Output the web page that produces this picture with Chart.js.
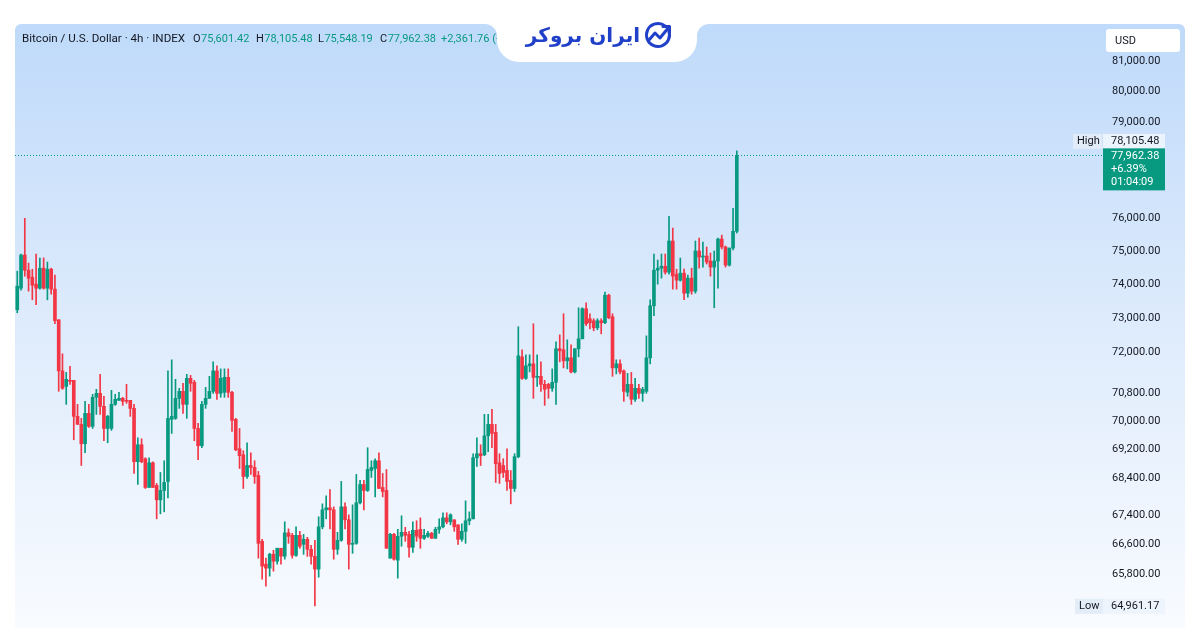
<!DOCTYPE html>
<html>
<head>
<meta charset="utf-8">
<script src="https://cdn.jsdelivr.net/npm/chart.js@4.4.1/dist/chart.umd.min.js"></script>
<style>
html,body{margin:0;padding:0;background:#fff;}
canvas{display:block;}
</style>
</head>
<body>
<canvas id="c" width="1200" height="628"></canvas>
<script>
// ---- DATA (4h candles) ----
const opens = [73237,73880,74880,74420,74210,74000,73880,74480,73880,74450,
73850,72940,71445,71000,71173,71173,70142,69915,69368,70227,
69858,70685,70800,70427,69800,69800,70484,70599,70656,70599,
70599,70370,68864,69340,68947,68151,68836,68206,67810,68068,
68317,70057,70085,70656,70857,70484,71231,71116,69800,69312,
70484,70656,70857,71445,70800,70829,71260,70829,70057,69228,
69060,68455,68760,68705,68483,66681,66067,65960,66333,66147,
66494,66280,66909,66843,66303,66843,66600,66735,66465,66276,
65934,67073,67537,67591,67537,66465,66708,67618,67264,66600,
66627,67728,68234,68068,68621,68677,68892,68151,68068,66227,
66870,66173,66816,66924,66870,66519,66978,67005,66762,66816,
66897,66762,67005,67073,67318,67209,67264,67127,66735,66951,
67237,67291,68976,69088,69060,69592,69915,69687,68836,68760,
68621,68345,68123,69004,71854,71231,71591,71650,71259,71288,
71058,71058,70944,71116,72089,72060,71737,71825,71416,72089,
72380,73266,72970,72911,72704,72911,72852,73670,73030,71533,
71650,71445,70829,71058,70628,70944,70800,70857,71825,73355,
74420,74480,74540,74360,75304,74300,74120,74330,73730,74180,
73790,75000,74818,74848,74696,74514,74696,75365,75122,74574,
75091,75601.42];
const highs = [74390,74910,76000,74635,74450,74910,74787,74790,74666,74480,
74270,72940,71942,71403,71575,71173,70483,70085,70570,70483,
70771,70915,71345,70714,70170,70886,70771,70829,70685,71058,
70599,70484,69536,69508,68975,68975,68864,68262,68566,68892,
71445,71766,71202,70944,71087,71345,71316,71173,69943,70570,
70972,71288,71708,71591,71504,71504,71504,70857,70085,69800,
69172,69396,69116,68892,68594,66735,66227,66360,66440,66494,
66494,67209,67018,66897,67073,66951,66870,66789,66573,66708,
67346,67700,67920,68095,67618,66924,68317,67728,67400,67673,
68511,68345,68345,69256,68892,68948,69116,68539,68649,66897,
66897,67005,67373,67060,66951,67209,67237,67318,67005,66951,
66924,67060,67291,67455,67455,67427,67264,67127,67155,67782,
67482,69088,69536,69340,70199,70199,70341,69915,69088,68948,
69228,68621,69088,72734,72058,71912,71912,72822,71912,71708,
71173,71087,71504,72290,72496,73118,72350,72204,72089,73296,
73296,73444,73118,72970,72970,72970,73760,73700,73118,71766,
71766,71474,71374,71403,71231,71058,70972,72467,73533,74909,
74726,74909,74909,76062,75700,74450,74787,74450,74270,74480,
75304,75395,75274,75122,74939,75000,75395,75486,75152,75091,
76308,78105.48];
const lows = [73148,73820,74240,73790,73533,73385,73850,73850,73533,73700,
72822,70857,70915,70484,71058,69480,69915,68760,69116,69830,
69800,70199,70199,69452,69396,69744,70455,70599,70455,70513,
70142,68539,68234,68836,68123,68151,68151,67291,67427,67482,
67864,69659,70057,70370,70227,70085,70857,69452,68920,69256,
70370,70656,70800,70628,70685,70685,70685,69716,69172,68677,
68123,68400,68511,68262,66227,65667,65480,65747,65880,66067,
66067,66200,66627,66227,66276,66492,66330,66276,66067,64961,
65720,67018,67291,67018,66200,66330,66681,67018,65934,66357,
66600,67700,67537,68040,68428,67892,68123,67892,66492,66227,
66173,65693,66546,66681,66254,66384,66681,66492,66735,66789,
66762,66762,66897,67046,67155,67127,66951,66600,66681,66627,
67127,67291,68732,68760,69032,69144,69256,68289,68262,68428,
68068,67700,68040,68976,71202,71202,71416,70656,71001,70857,
70455,70656,70857,70483,71708,71532,71504,71387,71387,71854,
72380,72763,72674,72615,72645,72526,72822,72970,71288,71358,
71358,70570,70714,70484,70570,70656,70570,70800,71650,73059,
74000,74180,74300,74300,73850,73850,74090,73533,73610,73700,
73730,74480,74514,74605,74240,73296,73880,75061,74514,74544,
75030,75548.19];
const closes = [73940,74880,74420,74180,73970,73880,74480,73880,74450,73850,
72911,71445,70944,71202,71144,70142,69915,69368,70227,69858,
70685,70800,70427,69800,70142,70484,70628,70656,70570,70570,
70370,68864,69340,68864,68151,68836,68151,67810,68068,68289,
70085,70142,70656,70857,70484,71231,71087,69800,69312,70484,
70656,70857,71445,70800,71231,71260,70829,70028,69200,69032,
68455,68760,68705,68455,66627,66014,65960,66333,66147,66494,
66280,66909,66815,66303,66843,66546,66735,66465,66276,65934,
67073,67537,67591,67537,66465,66708,67618,67264,66600,66627,
67728,68234,68068,68649,68705,68892,68123,68040,66492,66870,
66200,66816,66924,66843,66519,66978,66816,66762,66843,66897,
66762,67005,67073,67318,67209,67400,67073,66735,66951,67237,
67291,68976,69088,69032,69592,69915,69659,68808,68539,68566,
68317,68123,69004,71883,71231,71591,71650,71259,71288,71058,
70915,70944,71116,72089,72030,71737,71825,71416,72089,72380,
73266,72822,72852,72704,72911,72852,73670,73000,71533,71650,
71416,70857,71058,70628,70944,70800,70915,71825,73355,74420,
74480,74540,74360,75304,74240,74120,74330,73730,74180,73790,
75000,74818,74848,74666,74514,74696,75365,75122,74574,75091,
75601.42,77962.38];
const yTicks = [81000,80000,79000,76000,75000,74000,73000,72000,70800,70000,69200,68400,67400,66600,65800];
const symbolTitle = 'Bitcoin / U.S. Dollar \u00b7 4h \u00b7 INDEX';
const changeAbs = 2361.76;
const changeRel = 3.12;
const dayChangePct = 6.39;
const countdown = '01:04:09';
const rangeHigh = 78105.48;
const rangeLow = 64961.17;
const currency = 'USD';
const brandName = 'ایران بروکر';

// ---- STYLE ----
const UP = '#089981', DOWN = '#F23645', TXT = '#131722';
const FONT = 'Roboto, "Liberation Sans", sans-serif';
const fmt = v => Number(v).toLocaleString('en-US', {minimumFractionDigits: 2, maximumFractionDigits: 2});

const colors = closes.map((c, i) => c >= opens[i] ? UP : DOWN);
const wickData = highs.map((h, i) => ({x: i, y: [lows[i], h]}));
const bodyData = opens.map((o, i) => ({x: i, y: [o, closes[i]]}));

const bgPlugin = {
  id: 'bg',
  beforeDraw(chart) {
    const ctx = chart.ctx;
    ctx.save();
    ctx.fillStyle = '#ffffff';
    ctx.fillRect(0, 0, chart.width, chart.height);
    const g = ctx.createLinearGradient(0, 24, 0, 628);
    g.addColorStop(0, '#bfdafa');
    g.addColorStop(0.55, '#e1edfc');
    g.addColorStop(1, '#f8fbff');
    ctx.fillStyle = g;
    ctx.beginPath();
    ctx.roundRect(15, 24, 1170, 610, 6);
    ctx.fill();
    ctx.restore();
  }
};

const overlayPlugin = {
  id: 'overlay',
  afterDraw(chart) {
    const ctx = chart.ctx;
    const ys = chart.scales.y;
    const area = chart.chartArea;
    const last = closes.length - 1;
    ctx.save();

    // current price dotted line
    const yc = Math.round(ys.getPixelForValue(closes[last])) + 0.5;
    ctx.strokeStyle = UP;
    ctx.lineWidth = 1;
    ctx.setLineDash([1, 2]);
    ctx.beginPath();
    ctx.moveTo(area.left, yc);
    ctx.lineTo(1103, yc);
    ctx.stroke();
    ctx.setLineDash([]);

    // header legend
    ctx.textBaseline = 'middle';
    ctx.textAlign = 'left';
    ctx.fillStyle = TXT;
    ctx.font = '11.6px ' + FONT;
    ctx.fillText(symbolTitle, 22, 39);
    ctx.font = '11px ' + FONT;
    const parts = [['O', opens[last], 193], ['H', highs[last], 256], ['L', lows[last], 318], ['C', closes[last], 380]];
    parts.forEach(([k, v, x]) => {
      ctx.fillStyle = TXT;
      ctx.fillText(k, x, 39);
      ctx.fillStyle = UP;
      ctx.fillText(fmt(v), x + ctx.measureText(k).width + 0.5, 39);
    });
    ctx.fillStyle = UP;
    ctx.fillText('+' + fmt(changeAbs) + ' (+' + changeRel.toFixed(2) + '%)', 441, 39);

    // brand tab
    ctx.fillStyle = '#ffffff';
    ctx.beginPath();
    ctx.roundRect(497, -30, 200, 92, 22);
    ctx.fill();
    ctx.beginPath();
    ctx.moveTo(485, 24); ctx.lineTo(497, 24); ctx.lineTo(497, 36);
    ctx.arc(485, 36, 12, 0, -Math.PI / 2, true);
    ctx.fill();
    ctx.beginPath();
    ctx.moveTo(709, 24); ctx.lineTo(697, 24); ctx.lineTo(697, 36);
    ctx.arc(709, 36, 12, Math.PI, Math.PI * 1.5, false);
    ctx.fill();

    // brand text + icon
    const BLUE = '#2140c9';
    ctx.fillStyle = BLUE;
    ctx.font = 'bold 20px "DejaVu Sans", sans-serif';
    ctx.textAlign = 'right';
    ctx.textBaseline = 'alphabetic';
    ctx.direction = 'rtl';
    ctx.fillText(brandName, 640, 42);
    ctx.direction = 'ltr';
    ctx.strokeStyle = BLUE;
    ctx.lineWidth = 3;
    ctx.lineCap = 'round';
    ctx.lineJoin = 'round';
    ctx.beginPath();
    ctx.arc(658, 35, 11.5, -0.35, Math.PI * 1.72, false);
    ctx.stroke();
    ctx.beginPath();
    ctx.moveTo(649, 40); ctx.lineTo(655, 33); ctx.lineTo(660, 38); ctx.lineTo(669, 27);
    ctx.stroke();
    ctx.beginPath();
    ctx.moveTo(663, 26.5); ctx.lineTo(669.5, 26.5); ctx.lineTo(669.5, 33);
    ctx.stroke();

    // currency box
    ctx.fillStyle = '#ffffff';
    ctx.beginPath();
    ctx.roundRect(1106, 29, 74, 23, 3);
    ctx.fill();
    ctx.fillStyle = TXT;
    ctx.font = '11px ' + FONT;
    ctx.textAlign = 'left';
    ctx.textBaseline = 'middle';
    ctx.fillText(currency, 1115, 41);

    // High label
    const yh = ys.getPixelForValue(rangeHigh) - 10;
    ctx.fillStyle = 'rgba(226,236,248,0.95)';
    ctx.fillRect(1073, yh - 7, 29, 15);
    ctx.fillStyle = 'rgba(236,243,252,0.95)';
    ctx.fillRect(1103, yh - 7, 62, 15);
    ctx.fillStyle = TXT;
    ctx.fillText('High', 1077, yh + 0.5);
    ctx.fillText(fmt(rangeHigh), 1111, yh + 0.5);

    // current price box
    const yp = ys.getPixelForValue(closes[last]);
    ctx.fillStyle = UP;
    ctx.fillRect(1103, yp - 7, 62, 42);
    ctx.fillStyle = '#ffffff';
    ctx.fillText(fmt(closes[last]), 1111, yp + 1);
    ctx.fillText('+' + dayChangePct.toFixed(2) + '%', 1111, yp + 14);
    ctx.fillText(countdown, 1111, yp + 27);

    // Low label
    const yl = ys.getPixelForValue(rangeLow);
    ctx.fillStyle = 'rgba(226,236,248,0.95)';
    ctx.fillRect(1075, yl - 7, 28, 15);
    ctx.fillStyle = 'rgba(236,243,252,0.95)';
    ctx.fillRect(1103, yl - 7, 62, 15);
    ctx.fillStyle = TXT;
    ctx.fillText('Low', 1079, yl + 0.5);
    ctx.fillText(fmt(rangeLow), 1111, yl + 0.5);

    ctx.restore();
  }
};

new Chart(document.getElementById('c').getContext('2d'), {
  type: 'bar',
  data: {
    datasets: [
      {data: wickData, backgroundColor: colors, barThickness: 1, grouped: false, order: 2},
      {data: bodyData, backgroundColor: colors, barThickness: 3, grouped: false, minBarLength: 1, order: 1}
    ]
  },
  options: {
    responsive: false,
    animation: false,
    devicePixelRatio: 1,
    layout: {padding: {left: 15, right: 15, top: 24, bottom: 0}},
    plugins: {legend: {display: false}, tooltip: {enabled: false}},
    scales: {
      x: {type: 'linear', display: false, offset: false, min: -0.6, max: 287.4},
      y: {
        type: 'logarithmic', position: 'right', min: 64380, max: 82223, bounds: 'data',
        grid: {display: false, drawTicks: false},
        border: {display: false},
        ticks: {padding: 12, autoSkip: false, color: TXT, font: {family: FONT, size: 11}, major: {enabled: false},
          callback: v => fmt(v)},
        afterBuildTicks: s => { s.ticks = yTicks.map(v => ({value: v})); },
        afterFit: s => { s.width = 85; s.paddingTop = 0; s.paddingBottom = 0; }
      }
    }
  },
  plugins: [bgPlugin, overlayPlugin]
});
</script>
</body>
</html>
